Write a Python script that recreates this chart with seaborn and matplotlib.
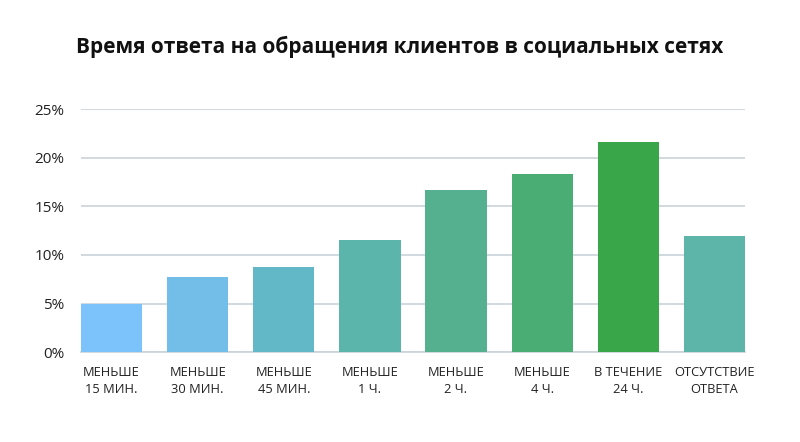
import pandas as pd
import matplotlib.pyplot as plt
import seaborn as sns

categories = ["МЕНЬШЕ\n15 МИН.", "МЕНЬШЕ\n30 МИН.", "МЕНЬШЕ\n45 МИН.", "МЕНЬШЕ\n1 Ч.",
              "МЕНЬШЕ\n2 Ч.", "МЕНЬШЕ\n4 Ч.", "В ТЕЧЕНИЕ\n24 Ч.", "ОТСУТСТВИЕ\nОТВЕТА"]
values = [5.0, 7.7, 8.8, 11.5, 16.7, 18.35, 21.65, 12.0]
colors = ["#7cc3fb", "#73bde9", "#63b8c8", "#5bb5ab", "#55b08f", "#4aad73", "#39a64a", "#5db5a9"]
yticks = [0, 5, 10, 15, 20, 25]

df = pd.DataFrame({"cat": categories, "val": values})

sns.set_style("white")
plt.rcParams['font.family'] = ['Open Sans', 'DejaVu Sans']

fig = plt.figure(figsize=(8, 4.42), dpi=100)
ax = fig.add_axes([0.10125, 0.2036, 0.83, 0.5487])

sns.barplot(data=df, x="cat", y="val", hue="cat", palette=colors, legend=False,
            width=0.71, ax=ax, zorder=3, saturation=1, linewidth=0)

ax.set_ylim(0, 25)
ax.set_xlim(-0.355, 7.355)
ax.set_yticks(yticks)
ax.set_yticklabels([f"{t}%" for t in yticks], fontsize=11, color="#222222")
ax.yaxis.grid(True, color="#cbd3d9", linewidth=1.2, zorder=0)
ax.tick_params(axis="y", length=0, pad=12)
ax.tick_params(axis="x", length=0, pad=10, labelsize=9.3, labelcolor="#222222")
for lbl in ax.get_xticklabels():
    lbl.set_multialignment("center")
    lbl.set_linespacing(1.45)
ax.set_xlabel("")
ax.set_ylabel("")
for s in ["top", "right", "left"]:
    ax.spines[s].set_visible(False)
ax.spines["bottom"].set_color("#cbd3d9")
ax.spines["bottom"].set_linewidth(1.2)

fig.text(0.5, 0.893, "Время ответа на обращения клиентов в социальных сетях",
         ha="center", va="center", fontsize=15, fontweight="bold", color="#111111")

plt.savefig("out.png", dpi=100)
